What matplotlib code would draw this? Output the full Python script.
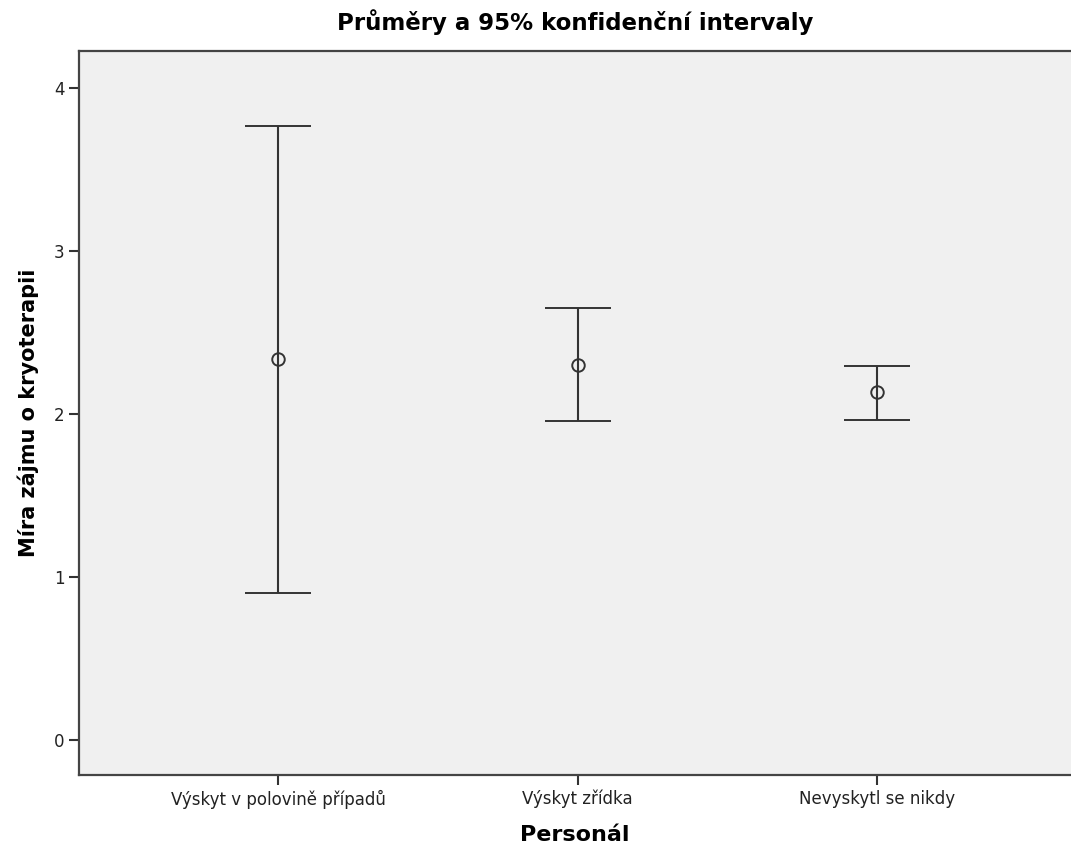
import matplotlib
matplotlib.use("Agg")
import matplotlib.pyplot as plt

plt.rcParams['font.family'] = ['DejaVu Sans']

categories = ['Výskyt v polovině případů', 'Výskyt zřídka', 'Nevyskytl se nikdy']
means = [2.34, 2.30, 2.135]
ci_low = [0.90, 1.957, 1.963]
ci_high = [3.767, 2.650, 2.294]

fig = plt.figure(figsize=(10.71, 8.55), dpi=100)
ax = fig.add_axes([79 / 1071, 1 - 775 / 855, 1 - 79 / 1071, (775 - 51) / 855])
ax.set_facecolor('#f0f0f0')

x = list(range(len(categories)))
yerr = [[m - lo for m, lo in zip(means, ci_low)],
        [hi - m for m, hi in zip(means, ci_high)]]
ax.errorbar(x, means, yerr=yerr, fmt='o', mfc='none', mec='#333333', ms=9, mew=1.4,
            ecolor='#333333', elinewidth=1.5, capsize=24, capthick=1.5)

ax.set_xlim(-0.665, 2.648)
ax.set_ylim(-0.215, 4.227)
ax.set_xticks(x)
ax.set_xticklabels(categories)
ax.set_yticks([0, 1, 2, 3, 4])

for side in ['top', 'left', 'bottom']:
    ax.spines[side].set_color('#444444')
    ax.spines[side].set_linewidth(1.6)
ax.spines['right'].set_visible(False)

ax.tick_params(axis='both', direction='out', length=7, width=1.5, color='#333333',
               labelsize=12, labelcolor='#222222')

ax.set_title('Průměry a 95% konfidenční intervaly', fontsize=16.5, fontweight='bold', pad=15)
ax.set_xlabel('Personál', fontsize=16, fontweight='bold', labelpad=12)
ax.set_ylabel('Míra zájmu o kryoterapii', fontsize=15, fontweight='bold', labelpad=11)

fig.savefig('out.png', dpi=100)
